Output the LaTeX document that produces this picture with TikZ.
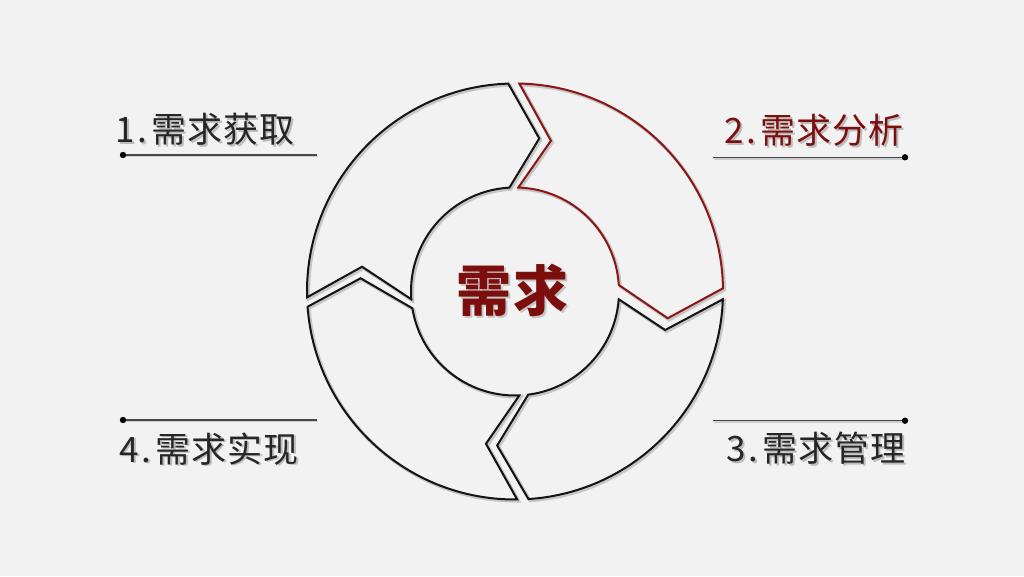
\documentclass[tikz,border=0pt]{standalone}
\usepackage{fontspec}
\setmainfont{Liberation Sans}
\newfontfamily\cjk{Noto Sans CJK SC}
\definecolor{bgcol}{RGB}{242,242,242}
\definecolor{deepred}{RGB}{125,14,14}
\definecolor{segred}{RGB}{140,22,22}
\definecolor{labelgray}{RGB}{38,38,38}
\definecolor{rulegray}{RGB}{70,70,70}
\def\pathsegA{(181.6:208) arc[start angle=181.6,end angle=91.85,radius=208pt] -- (80.99:155) -- (93.1:104) arc[start angle=93.1,end angle=184.3,radius=104pt] -- (170.8:155) -- cycle}
\def\pathsegB{(88.8:208) arc[start angle=88.8,end angle=0.88,radius=208pt] -- (-9.95:155) -- (3.58:104) arc[start angle=3.58,end angle=88.2,radius=104pt] -- (76.6:155) -- cycle}
\def\pathsegC{(-2.14:208) arc[start angle=-2.14,end angle=-86.3,radius=208pt] -- (-96.6:155) -- (-82.7:104) arc[start angle=-82.7,end angle=-4.29,radius=104pt] -- (-14.4:155) -- cycle}
\def\pathsegD{(-89.4:208) arc[start angle=-89.4,end angle=-175.8,radius=208pt] -- (-184.9:155) -- (-170.7:104) arc[start angle=-170.7,end angle=-87.6,radius=104pt] -- (-100.8:155) -- cycle}
\def\lbltext#1#2#3#4#5{#1\kern3pt.\kern4pt#2\kern1.2pt#3\kern1.2pt#4\kern1.2pt#5}
\begin{document}
\begin{tikzpicture}[x=1pt,y=1pt,
  seg/.style={draw=black!92, line width=2pt, line join=miter},
  segr/.style={draw=segred, line width=2pt, line join=miter},
  segshadow/.style={draw=black, opacity=0.18, line width=3.2pt, line join=miter},
  lbl/.style={inner sep=0pt, anchor=base, font=\cjk\fontsize{35}{40}\selectfont, text=labelgray},
  lblshadow/.style={lbl, text=black, opacity=0.22},
  ctext/.style={inner sep=0pt, font=\cjk\bfseries\fontsize{55}{60}\selectfont, text=deepred},
  ctextshadow/.style={ctext, text=black, opacity=0.18},
  rule/.style={draw=rulegray, line width=1.1pt},
  ruleshadow/.style={draw=black, opacity=0.15, line width=1.8pt},
  dot/.style={fill=black}
]
\useasboundingbox (0,0) rectangle (1024,576);
\fill[bgcol] (0,0) rectangle (1024,576);

% ring segments
\begin{scope}[shift={(516.5,283)}]
  \draw[segshadow] \pathsegA;
  \draw[segshadow] \pathsegB;
  \draw[segshadow] \pathsegC;
  \draw[segshadow] \pathsegD;
\end{scope}
\begin{scope}[shift={(515,284.5)}]
  \draw[seg] \pathsegA;
  \draw[segr] \pathsegB;
  \draw[seg] \pathsegC;
  \draw[seg] \pathsegD;
\end{scope}

% centre text
\node[ctextshadow] (ctrs) at (514.5,283.5) {需\kern2pt求};
\node[ctext] (ctr) at (512.5,285.5) {需\kern2pt求};

% label rules
\coordinate (d1) at (123,421);   \coordinate (e1) at (317,421);
\coordinate (e2) at (713,418.7); \coordinate (d2) at (905,418.7);
\coordinate (e3) at (713,155.3); \coordinate (d3) at (905,155.3);
\coordinate (d4) at (123,156);   \coordinate (e4) at (317,156);
\foreach \a/\b in {d1/e1,e2/d2,e3/d3,d4/e4}{
  \draw[ruleshadow] ([shift={(1,-1.5)}]\a) -- ([shift={(1,-1.5)}]\b);
  \draw[rule] (\a) -- (\b);
}
\foreach \p in {d1,d2,d3,d4}{
  \fill[dot] (\p) circle[radius=3.2pt];
}

% labels
\node[lblshadow] (l1s) at (207,431.5) {\lbltext{1}{需}{求}{获}{取}};
\node[lbl] (l1) at (205,433.3) {\lbltext{1}{需}{求}{获}{取}};
\node[lblshadow] (l2s) at (816,430.7) {\lbltext{2}{需}{求}{分}{析}};
\node[lbl, text=deepred] (l2) at (814,432.5) {\lbltext{2}{需}{求}{分}{析}};
\node[lblshadow] (l3s) at (818,112.5) {\lbltext{3}{需}{求}{管}{理}};
\node[lbl] (l3) at (816,114.3) {\lbltext{3}{需}{求}{管}{理}};
\node[lblshadow] (l4s) at (211,112.2) {\lbltext{4}{需}{求}{实}{现}};
\node[lbl] (l4) at (209,114) {\lbltext{4}{需}{求}{实}{现}};
\end{tikzpicture}
\end{document}
